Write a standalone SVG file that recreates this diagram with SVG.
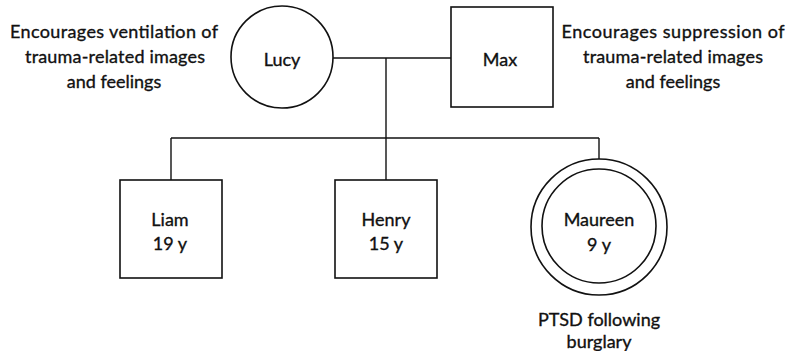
<svg xmlns="http://www.w3.org/2000/svg" width="794" height="351" viewBox="0 0 794 351">
<style>
.shape{fill:#fff;stroke:#111;stroke-width:1.6}
.line{fill:none;stroke:#111;stroke-width:1.4}
text{font-family:Lato,"Open Sans","Liberation Sans",sans-serif;font-size:18px;fill:#111;stroke:#111;stroke-width:0.35;text-anchor:middle}
</style>
<rect width="794" height="351" fill="#fff"/>
<g id="connectors">
<path class="line" d="M333 58 H451"/>
<path class="line" d="M386 58 V181"/>
<path class="line" d="M171 138 H599"/>
<path class="line" d="M171 138 V180"/>
<path class="line" d="M599 138 V159"/>
</g>
<g id="lucy">
<circle class="shape" cx="282" cy="57" r="51"/>
<text x="282" y="66">Lucy</text>
</g>
<g id="max">
<rect class="shape" x="451" y="7" width="102" height="100"/>
<text x="500" y="66">Max</text>
</g>
<g id="lucy-note">
<text x="114" y="38" textLength="208">Encourages ventilation of</text>
<text x="115" y="63" textLength="180">trauma-related images</text>
<text x="114" y="88">and feelings</text>
</g>
<g id="max-note">
<text x="673" y="38" textLength="223">Encourages suppression of</text>
<text x="673" y="63" textLength="180">trauma-related images</text>
<text x="673" y="88">and feelings</text>
</g>
<g id="liam">
<rect class="shape" x="120" y="180" width="102" height="98"/>
<text x="170" y="226">Liam</text>
<text x="170" y="250">19 y</text>
</g>
<g id="henry">
<rect class="shape" x="335" y="180" width="102" height="98"/>
<text x="386" y="226">Henry</text>
<text x="386" y="250">15 y</text>
</g>
<g id="maureen">
<circle class="shape" cx="599" cy="227" r="68"/>
<circle class="shape" cx="599" cy="226" r="57"/>
<text x="599" y="226">Maureen</text>
<text x="599" y="251">9 y</text>
</g>
<g id="maureen-note">
<text x="599" y="326">PTSD following</text>
<text x="599" y="348">burglary</text>
</g>
</svg>
